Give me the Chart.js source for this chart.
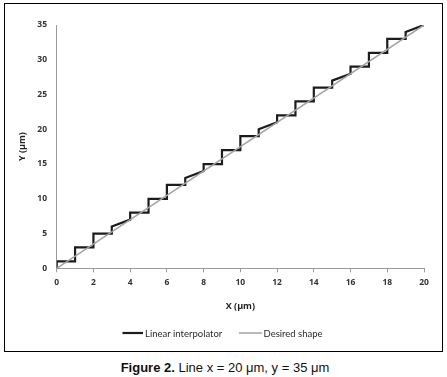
<!DOCTYPE html>
<html>
<head>
<meta charset="utf-8">
<script src="https://cdn.jsdelivr.net/npm/chart.js@4/dist/chart.umd.min.js"></script>
<style>
  html, body { margin: 0; padding: 0; background: #fff; width: 447px; height: 377px; overflow: hidden; }
  #frame { position: absolute; left: 4px; top: 3px; width: 437px; height: 347px; border: 1px solid #000; }
  #c { position: absolute; left: 0; top: 0; }
  #caption { position: absolute; left: 0; width: 450px; top: 360px; text-align: center;
             font-family: "Liberation Sans", Arial, sans-serif; font-size: 13px; line-height: 15px; color: #111; }
</style>
</head>
<body>
<div id="frame"><canvas id="c" width="437" height="347"></canvas></div>
<div id="caption"><b>Figure 2.</b> Line x = 20 μm, y = 35 μm</div>
<script>
// ---- data ----
const seriesNames = ["Linear interpolator", "Desired shape"];
const interpX = [0,0,1,1,2,2,3,3,4,4,5,5,6,6,7,7,8,8,9,9,10,10,11,11,12,12,13,13,14,14,15,15,16,16,17,17,18,18,19,19,20];
const interpY = [0,1,1,3,3,5,5,6,7,8,8,10,10,12,12,13,14,15,15,17,17,19,19,20,21,22,22,24,24,26,26,27,28,29,29,31,31,33,33,34,35];
const desiredX = [0, 20];
const desiredY = [0, 35];
const xTicks = [0,2,4,6,8,10,12,14,16,18,20];
const yTicks = [0,5,10,15,20,25,30,35];
const xTitle = "X (μm)";
const yTitle = "Y (μm)";

const toPts = (xs, ys) => xs.map((x, i) => ({x: x, y: ys[i]}));

const legendPlugin = {
  id: 'customLegend',
  afterDraw(chart) {
    const ctx = chart.ctx;
    const y = 329;
    const items = [
      {x0: 117.5, x1: 138, tx: 140},
      {x0: 234, x1: 257, tx: 258.5}
    ];
    ctx.save();
    ctx.font = '9.5px Lato, "Open Sans", sans-serif';
    ctx.textBaseline = 'middle';
    ctx.textAlign = 'left';
    chart.data.datasets.forEach((ds, i) => {
      const it = items[i];
      ctx.strokeStyle = ds.borderColor;
      ctx.lineWidth = ds.borderWidth;
      ctx.beginPath();
      ctx.moveTo(it.x0, y);
      ctx.lineTo(it.x1, y);
      ctx.stroke();
      ctx.fillStyle = '#2a2a2a';
      ctx.fillText(ds.label, it.tx, y + 0.5);
    });
    ctx.restore();
  }
};

const tickFont = {family: '"Open Sans", Lato, sans-serif', size: 8.5, weight: 'bold'};
const titleFont = {family: '"Open Sans", Lato, sans-serif', size: 9, weight: 'bold'};

new Chart(document.getElementById('c'), {
  type: 'scatter',
  data: {
    datasets: [
      {label: seriesNames[0], data: toPts(interpX, interpY), showLine: true, borderColor: '#1c1c1c',
       borderWidth: 2.2, pointRadius: 0, fill: false, order: 1, borderJoinStyle: 'miter'},
      {label: seriesNames[1], data: toPts(desiredX, desiredY), showLine: true, borderColor: '#a3a3a3',
       borderWidth: 1.5, pointRadius: 0, fill: false, order: 0}
    ]
  },
  options: {
    responsive: false,
    animation: false,
    layout: {padding: {left: 0, right: 18, top: 21, bottom: 32.7}},
    plugins: {legend: {display: false}, tooltip: {enabled: false}},
    scales: {
      x: {
        type: 'linear', min: 0, max: 20,
        afterBuildTicks: s => { s.ticks = xTicks.map(v => ({value: v})); },
        afterFit: s => { s.height = 50; },
        grid: {display: true, drawOnChartArea: false, drawTicks: true, tickLength: 4, color: '#9a9a9a'},
        border: {display: true, color: '#9a9a9a', width: 1},
        ticks: {font: tickFont, color: '#333', padding: 5, maxRotation: 0},
        title: {display: true, text: xTitle, font: titleFont, color: '#222', padding: {top: 0, bottom: 6.3}}
      },
      y: {
        type: 'linear', min: 0, max: 35,
        afterBuildTicks: s => { s.ticks = yTicks.map(v => ({value: v})); },
        afterFit: s => { s.width = 51.7; },
        grid: {display: false, drawTicks: false},
        border: {display: true, color: '#9a9a9a', width: 1},
        ticks: {font: tickFont, color: '#333', padding: 9.7},
        title: {display: true, text: yTitle, font: titleFont, color: '#222', padding: {top: 11.7, bottom: 0}}
      }
    }
  },
  plugins: [legendPlugin]
});
</script>
</body>
</html>
